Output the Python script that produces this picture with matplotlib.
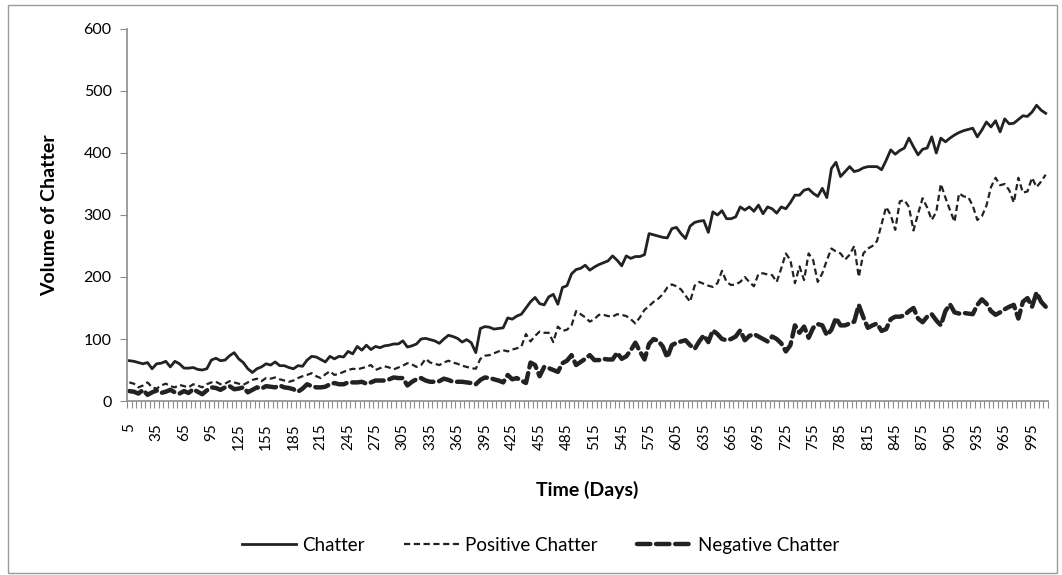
import numpy as np
import matplotlib
matplotlib.use("Agg")
import matplotlib.pyplot as plt
from matplotlib.patches import Rectangle

plt.rcParams['font.family'] = ['Lato', 'DejaVu Sans']

days = list(range(5, 1015, 5))

chatter = [65, 64, 62, 60, 62, 52, 60, 61, 64, 55, 64, 60, 53, 53, 54, 51, 50, 52, 66, 69,
           65, 66, 73, 78, 68, 62, 52, 46, 52, 55, 60, 58, 63, 57,
           57, 54, 52, 57, 56, 66, 72, 71, 67, 63, 72, 68, 72, 71, 80, 76, 88, 82, 90, 83,
           88, 86, 89, 90, 92, 92, 97, 87, 89, 92, 100, 101, 99, 97, 93,
           100, 106, 104, 101, 95, 99, 94, 78, 117, 120, 119, 116, 117, 118, 134, 132, 137, 140,
           150, 160, 167, 157, 155, 168, 172, 156, 183, 186, 205, 212, 214, 219, 211, 216, 220,
           223, 226, 234, 227, 218, 234, 230, 233, 233, 236, 270, 268, 266, 264, 263, 278, 280,
           270, 262, 282, 288, 290, 291, 272, 305, 300, 307, 294, 294, 297, 313,
           308, 313, 306, 316, 302, 313, 310, 303, 313, 310, 320, 332, 332, 340, 342, 335, 330,
           343, 328, 375, 385, 362, 370, 378, 370, 372, 376, 378, 378, 378, 373, 388, 405, 398, 404,
           408, 424, 410, 397, 406, 408, 426, 400, 424, 418, 424, 429, 433, 436, 438, 440, 426,
           437, 450, 442, 452, 434, 455, 447, 448, 454, 460, 459, 466, 477, 469, 464]

positive = [30, 28, 22, 25, 30, 22, 20, 25, 28, 24, 22, 26, 24, 22, 27, 25, 22, 27, 30, 31,
            27, 28, 32, 30, 28, 26, 30, 34, 36, 32, 37, 36, 38, 35,
            33, 31, 33, 37, 40, 42, 45, 40, 37, 43, 48, 42, 44, 47, 50, 52, 51, 53, 55, 58,
            50, 53, 56, 54, 51, 54, 57, 61, 59, 55, 58, 68, 62, 60, 58,
            62, 65, 62, 60, 57, 55, 53, 52, 68, 73, 74, 77, 80, 82, 80, 83, 85, 88,
            108, 96, 105, 112, 110, 110, 95, 120, 113, 115, 122, 145, 140, 135, 128, 132, 139, 139,
            137, 136, 140, 139, 137, 132, 125, 135, 147, 153, 160, 165, 172, 183, 188, 185, 180,
            170, 160, 186, 192, 189, 186, 184, 190, 210, 192, 187, 188, 192,
            200, 192, 185, 205, 206, 204, 203, 192, 214, 238, 227, 190, 217, 195, 238, 227, 192,
            206, 227, 246, 241, 238, 228, 236, 250, 200, 238, 246, 250, 258, 285, 313, 300, 276, 322,
            324, 313, 275, 302, 327, 312, 292, 305, 350, 328, 308, 289, 335, 330, 329, 315, 292,
            298, 315, 345, 360, 348, 350, 340, 320, 360, 336, 338, 360, 345, 354, 365]

negative = [16, 15, 12, 18, 10, 14, 17, 13, 15, 18, 14, 12, 16, 13, 19, 15, 11, 17, 22, 21,
            18, 22, 24, 19, 20, 22, 14, 18, 22, 20, 24, 23, 22, 25,
            22, 21, 19, 15, 20, 27, 24, 22, 22, 23, 27, 29, 27, 27, 30, 30, 30, 31, 28, 30,
            33, 33, 33, 35, 38, 37, 37, 25, 31, 35, 37, 33, 31, 31, 32,
            36, 34, 31, 31, 31, 30, 29, 27, 34, 38, 37, 35, 33, 30, 42, 35, 37, 33, 29, 62,
            58, 40, 55, 53, 50, 47, 61, 65, 74, 58, 63, 68, 74, 66,
            66, 68, 67, 67, 78, 68, 72, 82, 94, 80, 67, 92, 100, 97, 88, 70, 90, 94, 96, 98,
            90, 84, 96, 106, 95, 114, 108, 100, 98, 100, 104, 114,
            98, 105, 108, 104, 100, 96, 104, 100, 93, 80, 90, 122, 110, 120, 102, 118, 124, 122,
            106, 115, 134, 122, 122, 125, 128, 155, 135, 118, 122, 125, 113, 116, 132, 136, 136,
            138, 145, 150, 133, 127, 136, 140, 130, 122, 145, 156, 143, 141, 142, 141, 140, 155,
            164, 157, 145, 139, 143, 148, 152, 155, 133, 160, 166, 152, 175, 160, 152]

yticks = [0, 100, 200, 300, 400, 500, 600]

x = np.arange(len(days))
line_col = '#222222'
grey = '#8c8c8c'

fig = plt.figure(figsize=(10.62, 5.75), dpi=100)
ax = fig.add_axes([0.1196, 0.3026, 0.8672, 0.647])

ax.plot(x, chatter, color=line_col, lw=2.0, label='Chatter')
ax.plot(x, positive, color=line_col, lw=1.6, dashes=(2.8, 1.6), label='Positive Chatter')
ax.plot(x, negative, color=line_col, lw=3.2, dashes=(3.0, 1.3), dash_capstyle='round',
        label='Negative Chatter')

ax.set_xlim(-0.5, len(days) - 0.5)
ax.set_ylim(0, 600)
ax.set_yticks(yticks)
ax.tick_params(axis='y', length=5, color=grey, labelsize=11.5, pad=6)

# labels every 6th category, tick marks between every category
ax.set_xticks(x[::6])
ax.set_xticklabels([str(d) for d in days[::6]], rotation=90, fontsize=11)
ax.tick_params(axis='x', which='major', length=0, pad=16)
ax.set_xticks(np.arange(len(days) + 1) - 0.5, minor=True)
ax.tick_params(axis='x', which='minor', length=5, color=grey, width=0.8)

for s in ['top', 'right']:
    ax.spines[s].set_visible(False)
for s in ['left', 'bottom']:
    ax.spines[s].set_color(grey)
    ax.spines[s].set_linewidth(1.2)

ax.set_xlabel('Time (Days)', fontweight='bold', fontsize=14)
ax.xaxis.set_label_coords(0.5, -0.215)
ax.set_ylabel('Volume of Chatter', fontweight='bold', fontsize=14)
ax.yaxis.set_label_coords(-0.075, 0.5)

fig.legend(loc='center', bbox_to_anchor=(0.509, 0.052), ncol=3, frameon=False,
           handlelength=2.9, handletextpad=0.35, columnspacing=2.1, fontsize=13.5)

fig.patches.append(Rectangle((0.008, 0.004), 0.987, 0.987, transform=fig.transFigure,
                             fill=False, edgecolor='#9a9a9a', lw=1))

fig.savefig('out.png', dpi=100)
